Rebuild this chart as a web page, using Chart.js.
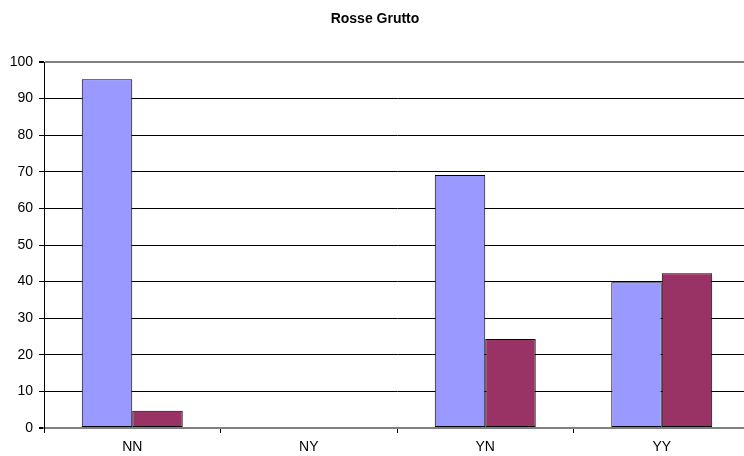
<!DOCTYPE html>
<html>
<head>
<meta charset="utf-8">
<script src="https://cdn.jsdelivr.net/npm/chart.js@4.4.1/dist/chart.umd.min.js"></script>
<style>
  html, body { margin: 0; padding: 0; background: #fff; overflow: hidden; }
  #wrap { width: 744px; height: 456px; overflow: hidden; }
  canvas { display: block; }
</style>
</head>
<body>
<div id="wrap">
  <canvas id="grutto" width="756" height="456"></canvas>
</div>
<script>
const categories = ["NN", "NY", "YN", "YY"];
const seriesBlue = [95.3, 0, 69.1, 39.8];
const seriesRed = [4.7, 0, 24.3, 42.3];
const yTicks = [0, 10, 20, 30, 40, 50, 60, 70, 80, 90, 100];

const FONT = "'Liberation Sans', Arial, sans-serif";

// zero-height bars are left out, no outline either
const edge = (ctx) => (ctx.raw === 0 ? 0 : 1);

new Chart(document.getElementById("grutto"), {
  type: "bar",
  data: {
    labels: categories,
    datasets: [
      {
        data: seriesBlue,
        backgroundColor: "#9999FF",
        borderColor: "#000000",
        borderWidth: edge,
        borderSkipped: false,
      },
      {
        data: seriesRed,
        backgroundColor: "#993366",
        borderColor: "#000000",
        borderWidth: edge,
        borderSkipped: false,
      },
    ],
  },
  options: {
    responsive: false,
    animation: false,
    devicePixelRatio: 1,
    layout: { padding: { left: 0, right: 6, top: 0, bottom: 0 } },
    datasets: {
      bar: { categoryPercentage: 0.572, barPercentage: 1.0 },
    },
    plugins: {
      legend: { display: false },
      tooltip: { enabled: false },
      title: {
        display: true,
        text: "Rosse Grutto",
        color: "#000",
        font: { family: FONT, size: 14, weight: "bold" },
        padding: { top: 11, bottom: 34.2 },
      },
    },
    scales: {
      x: {
        offset: true,
        afterFit: (scale) => { scale.height = 28; },
        grid: {
          drawOnChartArea: false,
          drawTicks: true,
          tickLength: 5,
          color: "#000",
          offset: true,
        },
        border: { display: true, color: "#808080", width: 2 },
        ticks: {
          color: "#000",
          padding: 6,
          font: { family: FONT, size: 14 },
        },
      },
      y: {
        min: 0,
        max: 100,
        afterFit: (scale) => { scale.width = 44; },
        afterBuildTicks: (scale) => {
          scale.ticks = yTicks.map((v) => ({ value: v }));
        },
        grid: {
          color: (ctx) => (ctx.tick && (ctx.tick.value === 100 || ctx.tick.value === 0) ? "#808080" : "#000"),
          lineWidth: (ctx) => (ctx.tick && (ctx.tick.value === 100 || ctx.tick.value === 0) ? 2 : 1),
          tickColor: "#000",
          tickLength: 5,
        },
        border: { display: true, color: "#000", width: 1 },
        ticks: {
          color: "#000",
          padding: 6,
          font: { family: FONT, size: 14 },
        },
      },
    },
  },
});
</script>
</body>
</html>
